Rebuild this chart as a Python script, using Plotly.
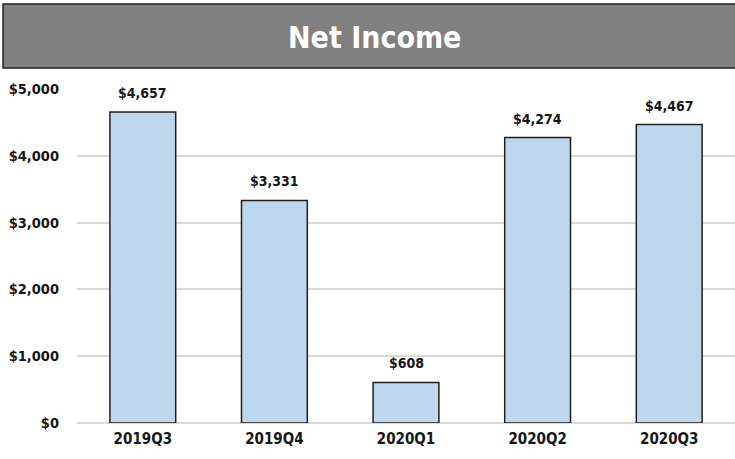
import plotly.graph_objects as go

categories = ["2019Q3", "2019Q4", "2020Q1", "2020Q2", "2020Q3"]
net_income = [4657, 3331, 608, 4274, 4467]
tick_vals = [0, 1000, 2000, 3000, 4000, 5000]
tick_text = ["$0", "$1,000", "$2,000", "$3,000", "$4,000", "$5,000"]
title_text = "Net Income"

FONT = "DejaVu Sans Condensed, Liberation Sans Narrow, Liberation Sans, Arial, sans-serif"
TXT = "#161616"

fig = go.Figure()
fig.add_trace(go.Bar(
    x=categories,
    y=net_income,
    width=0.5,
    marker=dict(color="#bdd7ee", line=dict(color="#1f1f1f", width=1.5)),
    hoverinfo="skip",
))
for c, v in zip(categories, net_income):
    fig.add_annotation(x=c, y=v, text=f"<b>${v:,}</b>", showarrow=False,
                       yshift=19, yanchor="middle", xanchor="center",
                       font=dict(family=FONT, size=14, color=TXT))

L, R, T, B = 77, 0, 89, 36
H = 459
ph = H - T - B
pw = 735 - L - R

def px_x(p):
    return (p - L) / pw

def px_y(p):
    return (H - p - B) / ph

fig.add_shape(type="rect", xref="paper", yref="paper",
              x0=px_x(3), x1=px_x(745), y0=px_y(68), y1=px_y(4),
              fillcolor="#808080", line=dict(color="#222222", width=1.5), layer="above")
fig.add_annotation(text=f"<b>{title_text}</b>", xref="paper", yref="paper",
                   x=px_x(374), y=px_y(37), showarrow=False,
                   font=dict(family=FONT, size=30, color="white"),
                   xanchor="center", yanchor="middle")

fig.update_layout(
    width=735, height=459,
    margin=dict(l=L, r=R, t=T, b=B),
    plot_bgcolor="white", paper_bgcolor="white",
    showlegend=False,
    xaxis=dict(showgrid=False, showline=False, ticks="",
               tickvals=categories, ticktext=[f"<b>{c}</b>" for c in categories],
               tickfont=dict(family=FONT, size=15, color=TXT),
               ticklabelstandoff=5),
    yaxis=dict(range=[0, 5000], tickvals=tick_vals, ticktext=[f"<b>{t}</b>" for t in tick_text],
               showgrid=True, gridcolor="#d9d9d9", gridwidth=1.5,
               zeroline=True, zerolinecolor="#d9d9d9", zerolinewidth=1.5,
               showline=False, ticks="", ticklabelstandoff=17,
               tickfont=dict(family=FONT, size=14.5, color=TXT)),
    font=dict(family=FONT),
)

fig.write_html("out.html", config={"displayModeBar": False},
               post_script="document.body.style.margin='0';document.body.style.padding='0';")
